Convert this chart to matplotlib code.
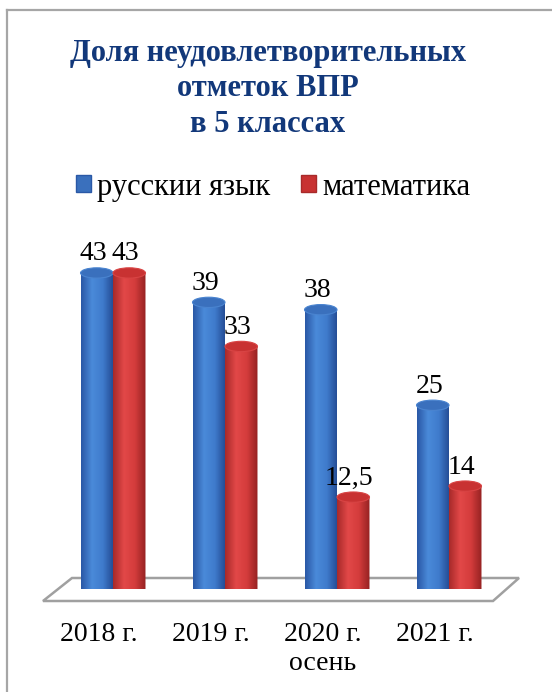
import numpy as np
import matplotlib.pyplot as plt
from matplotlib.colors import LinearSegmentedColormap
from matplotlib.patches import Ellipse, PathPatch, Polygon, Patch
from matplotlib.path import Path
from matplotlib.lines import Line2D

# данные
years = ['2018 г.', '2019 г.', '2020 г.\nосень', '2021 г.']
rus = [43, 39, 38, 25]
mat = [43, 33, 12.5, 14]
rus_lbl = ['43', '39', '38', '25']
mat_lbl = ['43', '33', '12,5', '14']

plt.rcParams['font.family'] = ['Liberation Serif', 'DejaVu Serif']

W, H = 552, 692
fig = plt.figure(figsize=(W / 100, H / 100), dpi=100)

# рамка вокруг диаграммы
fig.add_artist(Line2D([7 / W, 7 / W], [0, 1 - 10 / H], color='#a6a6a6', lw=1.6))
fig.add_artist(Line2D([7 / W, 1], [1 - 10 / H, 1 - 10 / H], color='#a6a6a6', lw=1.6))

# заголовок
fig.text(268 / W, 1 - 89 / H, 'Доля неудовлетворительных\nотметок ВПР\nв 5 классах',
         ha='center', va='center', fontsize=22, fontweight='bold', color='#12387a',
         linespacing=1.3)

# оси: центры групп через 112 px, ноль на 589 px
x0px, step = 113 - 0.6 * 112, 112
ax = fig.add_axes([x0px / W, (H - 589) / H, 4.2 * step / W, 50 * 7.35 / H])
ax.set_xlim(-0.6, 3.6)
ax.set_ylim(0, 50)
ax.axis('off')

# пол
floor = Polygon([(72 / W, 1 - 578 / H), (519 / W, 1 - 578 / H),
                 (493 / W, 1 - 601 / H), (43 / W, 1 - 601 / H)],
                closed=True, transform=fig.transFigure, facecolor='white',
                edgecolor='#a0a0a0', lw=1.8, zorder=0)
fig.add_artist(floor)

cm_blue = LinearSegmentedColormap.from_list('b', ['#2a58a6', '#4a8ad9', '#3f7bcc', '#234a92'])
cm_red = LinearSegmentedColormap.from_list('r', ['#a82a2a', '#e24848', '#d43c3c', '#962222'])
grad = np.linspace(0, 1, 64).reshape(1, -1)

bw = 0.29
eh = 1.4


def cylinder(xc, v, cmap, topc, edgec):
    xl, xr = xc - bw / 2, xc + bw / 2
    t = np.linspace(np.pi, 2 * np.pi, 40)
    arc = np.column_stack([xc + bw / 2 * np.cos(t), eh / 2 * np.sin(t)])
    verts = np.vstack([[xl, v], [xl, 0], arc, [xr, 0], [xr, v], [xl, v]])
    codes = [Path.MOVETO] + [Path.LINETO] * (len(verts) - 2) + [Path.CLOSEPOLY]
    clip = PathPatch(Path(verts, codes), transform=ax.transData, facecolor='none', edgecolor='none')
    ax.add_patch(clip)
    im = ax.imshow(grad, extent=[xl, xr, -eh / 2, v], aspect='auto', cmap=cmap, zorder=2)
    im.set_clip_path(clip)
    ax.add_patch(Ellipse((xc, v), bw, eh, facecolor=topc, edgecolor=edgec, lw=0.8, zorder=3))


for i in range(len(years)):
    cylinder(i - bw / 2, rus[i], cm_blue, '#3a70bd', '#4a84d0')
    cylinder(i + bw / 2, mat[i], cm_red, '#c83232', '#d84444')
    ax.annotate(rus_lbl[i], (i - bw / 2, rus[i]), xytext=(-3, 19), textcoords='offset pixels',
                ha='center', va='center', fontsize=20, zorder=5)
    ax.annotate(mat_lbl[i], (i + bw / 2, mat[i]), xytext=(-4, 19), textcoords='offset pixels',
                ha='center', va='center', fontsize=20, zorder=5)
    ax.annotate(years[i], (i, 0), xytext=(-14, -33), textcoords='offset pixels',
                ha='center', va='top', fontsize=20, linespacing=1.2, annotation_clip=False)

ax.set_xlim(-0.6, 3.6)
ax.set_ylim(0, 50)

# легенда
handles = [Patch(facecolor='#3a70bd', edgecolor='#2a58a6'),
           Patch(facecolor='#c83232', edgecolor='#a82a2a')]
fig.legend(handles, ['русскии язык', 'математика'], loc='center', ncol=2,
           bbox_to_anchor=(273 / W, 1 - 187 / H), frameon=False, fontsize=22,
           handlelength=0.5, handleheight=0.5, handletextpad=0.2, columnspacing=1.0)

fig.savefig('out.png', dpi=100, facecolor='white')
